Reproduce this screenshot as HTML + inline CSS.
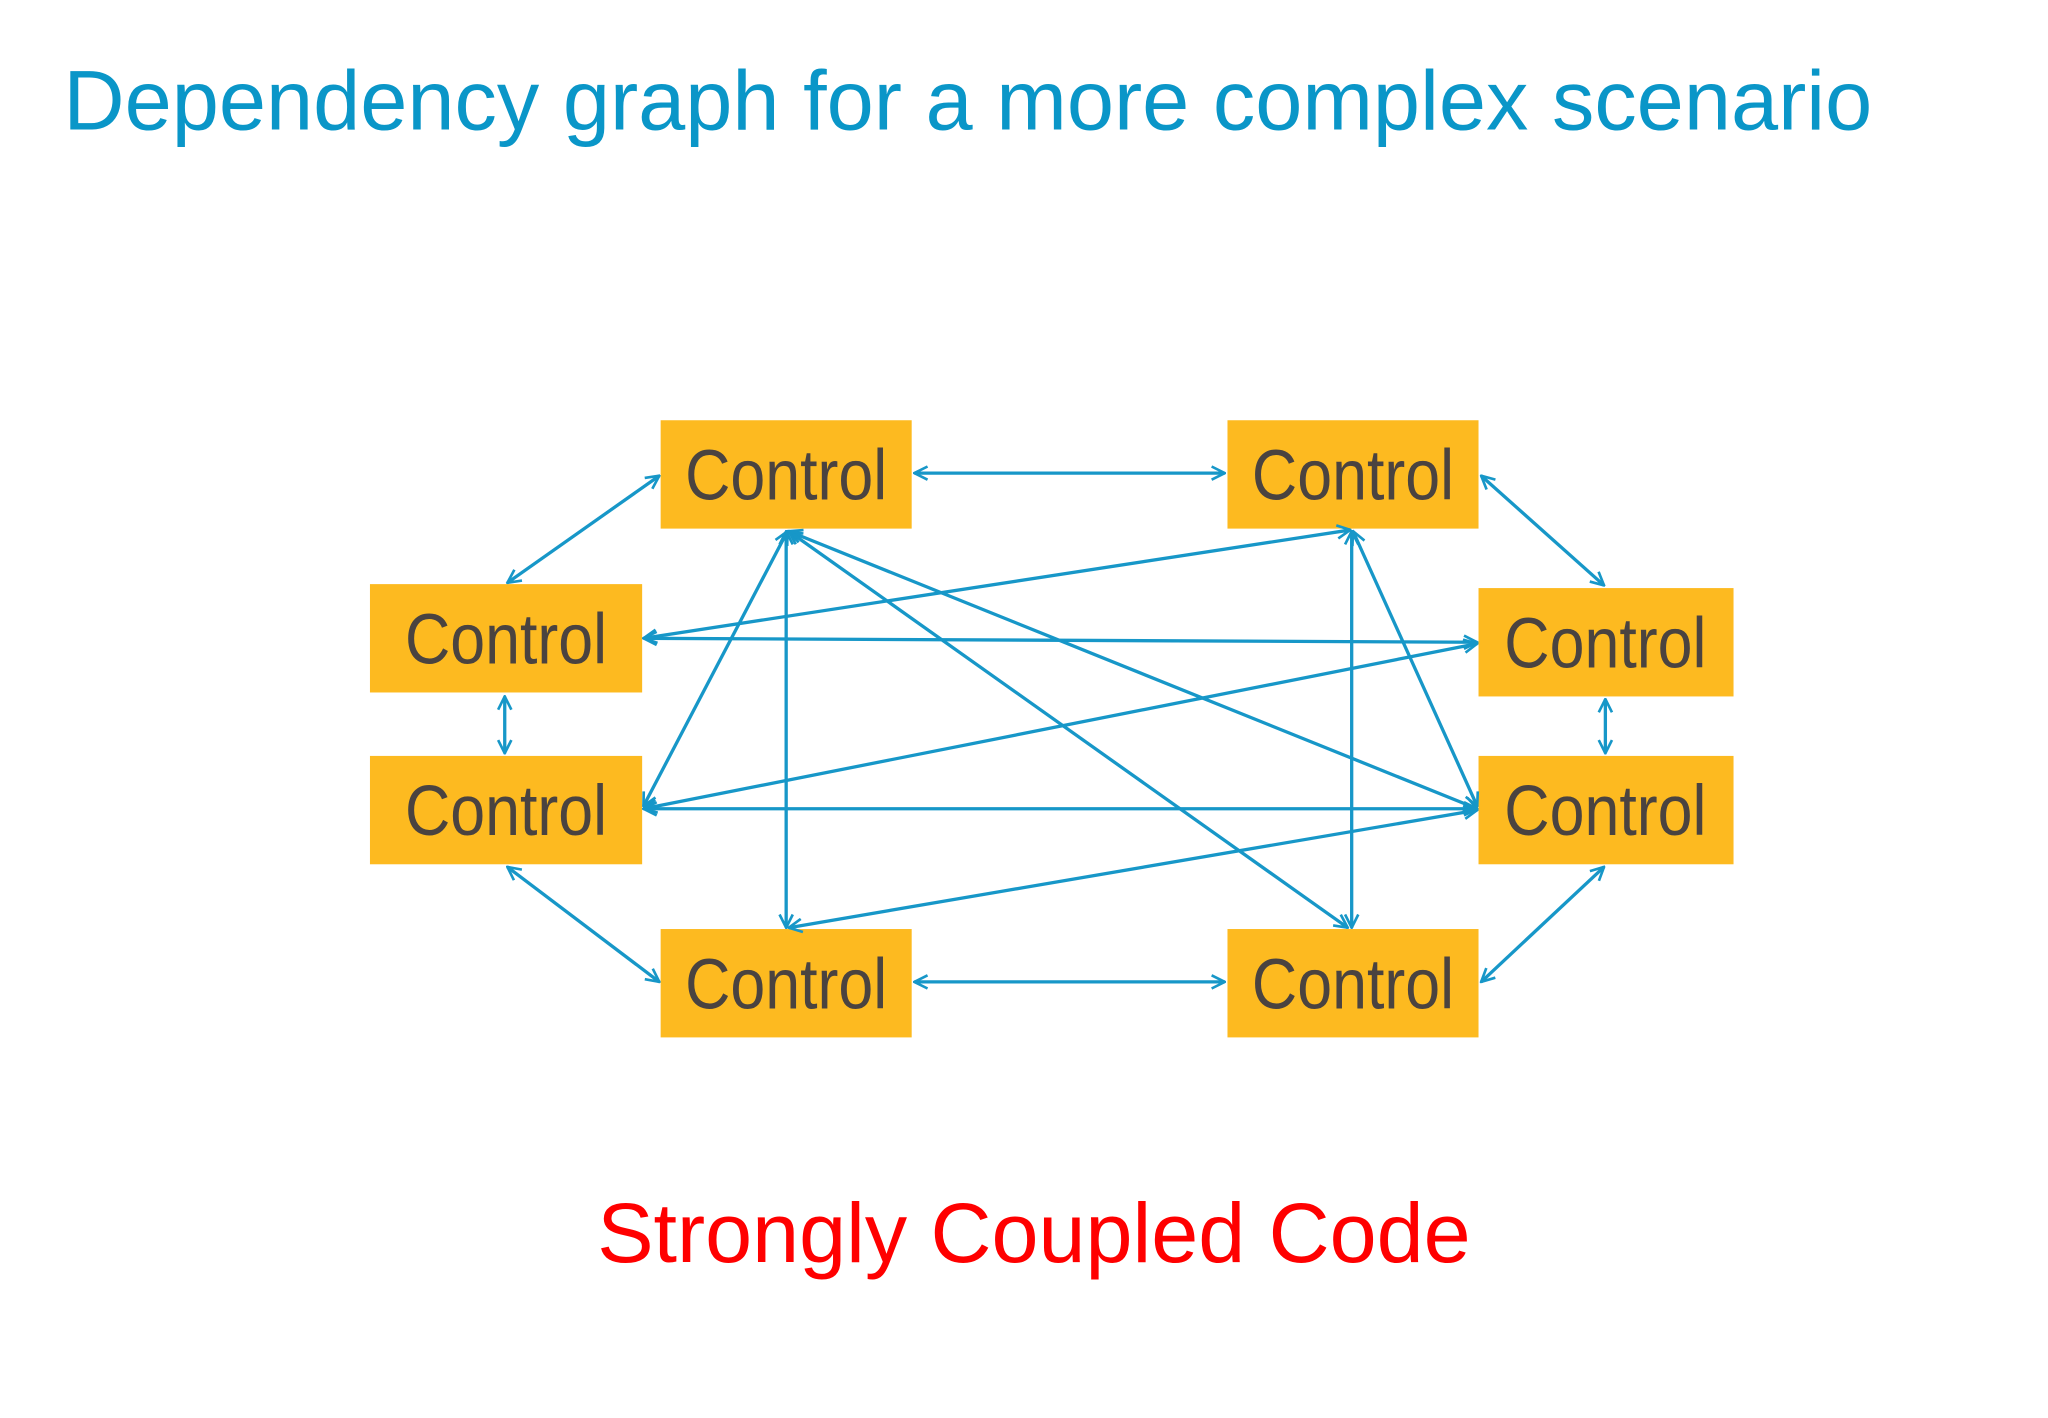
<!DOCTYPE html>
<html><head><meta charset="utf-8"><style>
html,body{margin:0;padding:0;background:#fff;}
svg{display:block;}
</style></head><body>
<svg width="2048" height="1418" viewBox="0 0 1550 1073" preserveAspectRatio="none" xmlns="http://www.w3.org/2000/svg">
<defs>
<marker id="a" viewBox="0 0 12 12" refX="11" refY="6" markerWidth="12" markerHeight="12" orient="auto-start-reverse" markerUnits="userSpaceOnUse">
<path d="M1,1 L11,6 L1,11" fill="none" stroke="#1797c8" stroke-width="2"/>
</marker>
</defs>
<rect width="1550" height="1073" fill="#fff"/>
<text x="48" y="98" font-family="Liberation Sans, sans-serif" font-size="64" fill="#0a96c8" textLength="1369" lengthAdjust="spacingAndGlyphs">Dependency graph for a more complex scenario</text>
<g fill="#fdba20">
<rect x="500" y="318" width="190" height="82"/>
<rect x="929" y="318" width="190" height="82"/>
<rect x="280" y="442" width="206" height="82"/>
<rect x="1119" y="445" width="193" height="82"/>
<rect x="280" y="572" width="206" height="82"/>
<rect x="1119" y="572" width="193" height="82"/>
<rect x="500" y="703" width="190" height="82"/>
<rect x="929" y="703" width="190" height="82"/>
</g>
<g font-family="Liberation Sans, sans-serif" font-size="54" fill="#4a4340" text-anchor="middle">
<text x="595" y="378" textLength="153" lengthAdjust="spacingAndGlyphs">Control</text>
<text x="1024" y="378" textLength="153" lengthAdjust="spacingAndGlyphs">Control</text>
<text x="383" y="502" textLength="153" lengthAdjust="spacingAndGlyphs">Control</text>
<text x="1215" y="505" textLength="153" lengthAdjust="spacingAndGlyphs">Control</text>
<text x="383" y="632" textLength="153" lengthAdjust="spacingAndGlyphs">Control</text>
<text x="1215" y="632" textLength="153" lengthAdjust="spacingAndGlyphs">Control</text>
<text x="595" y="763" textLength="153" lengthAdjust="spacingAndGlyphs">Control</text>
<text x="1024" y="763" textLength="153" lengthAdjust="spacingAndGlyphs">Control</text>
</g>
<g stroke="#1797c8" stroke-width="2.5" fill="none" marker-start="url(#a)" marker-end="url(#a)">
<line x1="692" y1="358" x2="927" y2="358"/>
<line x1="692" y1="743" x2="927" y2="743"/>
<line x1="499" y1="360" x2="384" y2="441"/>
<line x1="1121" y1="360" x2="1214" y2="443"/>
<line x1="382" y1="527" x2="382" y2="570"/>
<line x1="1215" y1="529" x2="1215" y2="570"/>
<line x1="384" y1="656" x2="499" y2="743"/>
<line x1="1214" y1="656" x2="1121" y2="743"/>
<line x1="595" y1="402" x2="595" y2="702"/>
<line x1="1023" y1="402" x2="1023" y2="702"/>
<line x1="1022" y1="401" x2="487" y2="483"/>
<line x1="487" y1="483" x2="1118" y2="486"/>
<line x1="1118" y1="487" x2="487" y2="612"/>
<line x1="487" y1="612" x2="1118" y2="612"/>
<line x1="1118" y1="613" x2="597" y2="702"/>
<line x1="596" y1="402" x2="487" y2="610"/>
<line x1="597" y1="402" x2="1118" y2="612"/>
<line x1="597" y1="402" x2="1020" y2="702"/>
<line x1="1024" y1="402" x2="1118" y2="610"/>
</g>
<text x="452" y="955" font-family="Liberation Sans, sans-serif" font-size="64" fill="#ff0000" textLength="661" lengthAdjust="spacingAndGlyphs">Strongly Coupled Code</text>
</svg>
</body></html>
